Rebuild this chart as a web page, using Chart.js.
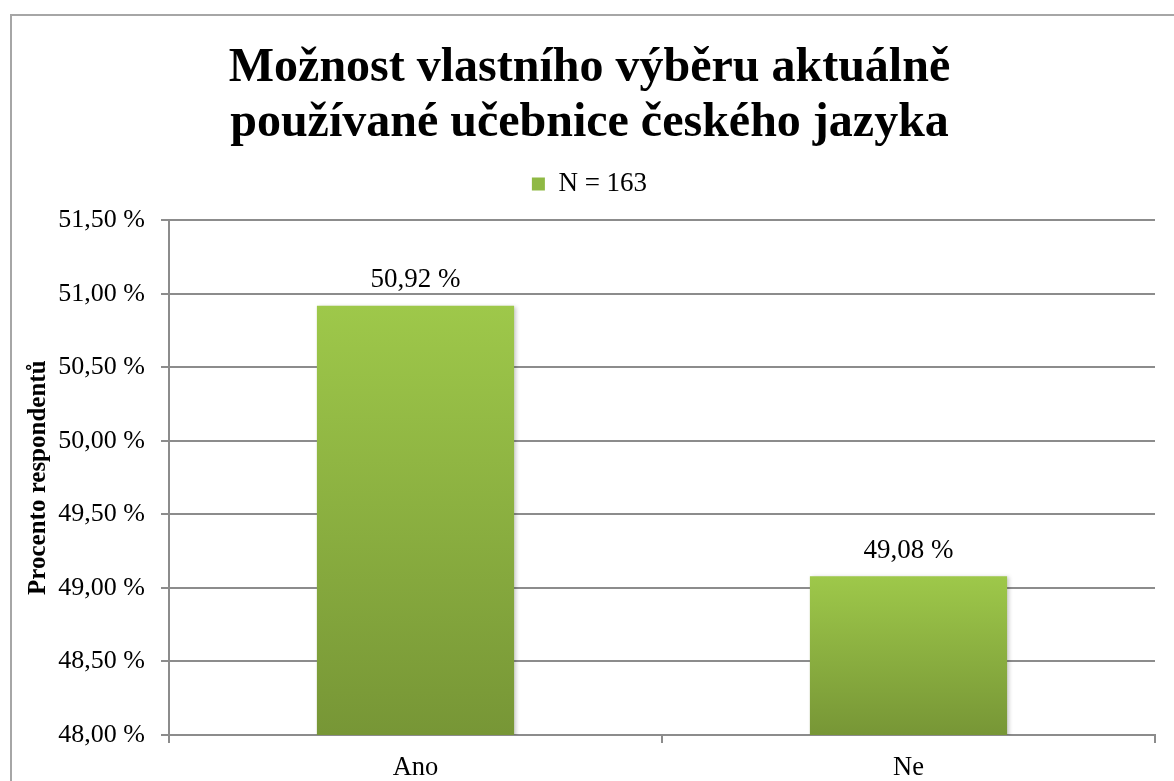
<!DOCTYPE html>
<html>
<head>
<meta charset="utf-8">
<script src="https://cdn.jsdelivr.net/npm/chart.js@4/dist/chart.umd.min.js"></script>
<style>
  html, body { margin: 0; padding: 0; background: #fff; }
  #wrap { width: 1174px; height: 781px; }
</style>
</head>
<body>
<div id="wrap"><canvas id="chart" width="1174" height="781"></canvas></div>
<script>
const categories = ['Ano', 'Ne'];
const percentValues = [50.92, 49.08];
const seriesName = 'N = 163';
const chartTitle = ['Možnost vlastního výběru aktuálně', 'používané učebnice českého jazyka'];
const axisTitle = 'Procento respondentů';

const serif = '"Liberation Serif", "Times New Roman", serif';
const fmt = v => v.toFixed(2).replace('.', ',') + ' %';

// gradient per bar, light on top, darker at base
function barGradient(ctx) {
    const chart = ctx.chart;
    const area = chart.chartArea;
    if (!area || ctx.dataIndex === undefined) return '#8db345';
    const top = chart.scales.y.getPixelForValue(ctx.raw);
    const g = chart.ctx.createLinearGradient(0, top, 0, area.bottom);
    g.addColorStop(0, '#9ec84a');
    g.addColorStop(1, '#779636');
    return g;
}

const frame = {
    id: 'frame',
    beforeDraw(chart) {
        const c = chart.ctx;
        c.save();
        c.fillStyle = '#fff';
        c.fillRect(0, 0, chart.width, chart.height);
        c.strokeStyle = '#a6a6a6';
        c.lineWidth = 2;
        c.strokeRect(11, 15, chart.width + 40, chart.height + 40);
        c.restore();
    }
};

// soft shadow like the office chart
const barShadow = {
    id: 'barShadow',
    beforeDatasetDraw(chart) {
        const c = chart.ctx;
        c.save();
        c.shadowColor = 'rgba(0,0,0,0.22)';
        c.shadowBlur = 4;
        c.shadowOffsetX = 2;
        c.shadowOffsetY = 1;
    },
    afterDatasetDraw(chart) {
        chart.ctx.restore();
    }
};

const valueLabels = {
    id: 'valueLabels',
    afterDatasetsDraw(chart) {
        const c = chart.ctx;
        const meta = chart.getDatasetMeta(0);
        c.save();
        c.font = '27px ' + serif;
        c.fillStyle = '#000';
        c.textAlign = 'center';
        c.textBaseline = 'bottom';
        meta.data.forEach((bar, i) => {
            c.fillText(fmt(percentValues[i]), bar.x, bar.y - 12);
        });
        c.restore();
    }
};

new Chart(document.getElementById('chart'), {
    type: 'bar',
    data: {
        labels: categories,
        datasets: [{
            label: seriesName,
            data: percentValues,
            backgroundColor: barGradient,
            borderWidth: 0,
            barPercentage: 0.4,
            categoryPercentage: 1.0
        }]
    },
    options: {
        responsive: false,
        animation: false,
        layout: { padding: { left: 24, right: 19, top: 41, bottom: 0 } },
        plugins: {
            title: {
                display: true,
                text: chartTitle,
                color: '#000',
                font: { family: serif, size: 48, weight: 'bold', lineHeight: 1.15 },
                padding: { top: 0, bottom: -3 }
            },
            // empty spacer between legend and plot
            subtitle: {
                display: true,
                text: ' ',
                weight: 500,
                font: { size: 1, lineHeight: 1 },
                padding: { top: 12, bottom: 0 }
            },
            legend: {
                display: true,
                labels: {
                    color: '#000',
                    font: { family: serif, size: 27 },
                    boxWidth: 13,
                    boxHeight: 13,
                    padding: 22,
                    generateLabels: chart => [{
                        text: seriesName,
                        fillStyle: '#8fb944',
                        strokeStyle: '#8fb944',
                        lineWidth: 0,
                        datasetIndex: 0
                    }]
                }
            },
            tooltip: { enabled: false }
        },
        scales: {
            x: {
                afterFit: scale => { scale.height = 46; },
                grid: {
                    display: true,
                    drawOnChartArea: false,
                    drawTicks: true,
                    tickLength: 8,
                    color: '#8c8c8c',
                    lineWidth: 2
                },
                border: { color: '#8c8c8c', width: 2 },
                ticks: {
                    color: '#000',
                    font: { family: serif, size: 26.5 },
                    padding: 9
                }
            },
            y: {
                min: 48,
                max: 51.5,
                afterFit: scale => { scale.width = 145; },
                grid: {
                    color: '#8c8c8c',
                    lineWidth: 2,
                    drawTicks: true,
                    tickLength: 8
                },
                border: { color: '#8c8c8c', width: 2 },
                ticks: {
                    stepSize: 0.5,
                    color: '#000',
                    font: { family: serif, size: 26 },
                    padding: 16,
                    callback: v => fmt(v)
                },
                title: {
                    display: true,
                    text: axisTitle,
                    color: '#000',
                    font: { family: serif, size: 25, weight: 'bold' },
                    padding: { top: 0, bottom: 0 }
                }
            }
        }
    },
    plugins: [frame, barShadow, valueLabels]
});
</script>
</body>
</html>
